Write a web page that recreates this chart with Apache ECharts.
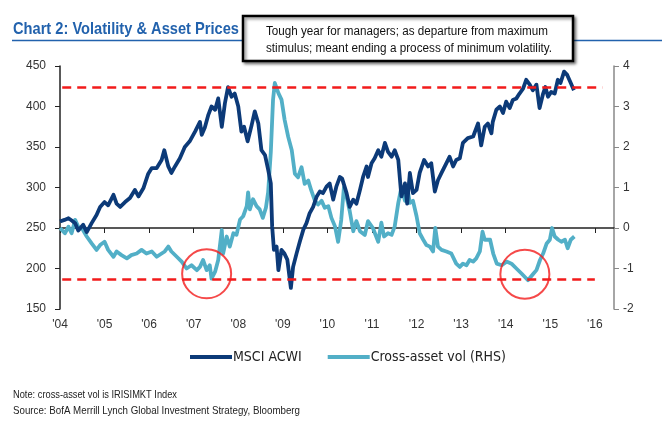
<!DOCTYPE html>
<html>
<head>
<meta charset="utf-8">
<script src="https://cdn.jsdelivr.net/npm/echarts@6/dist/echarts.min.js"></script>
<style>
html,body{margin:0;padding:0;background:#fff;}
#chart{width:672px;height:425px;}
</style>
</head>
<body>
<div id="chart"></div>
<script>
// ---- Data ----
const titleText = 'Chart 2: Volatility & Asset Prices';
const noteLines = ['Tough year for managers; as departure from maximum',
                   'stimulus; meant ending a process of minimum volatility.'];
const footNote = 'Note: cross-asset vol is IRISIMKT Index';
const footSource = 'Source: BofA Merrill Lynch Global Investment Strategy, Bloomberg';
const seriesNames = ['MSCI ACWI', 'Cross-asset vol (RHS)'];

const msciYears = [2004.00,2004.10,2004.19,2004.27,2004.34,2004.41,2004.52,2004.60,2004.71,2004.82,2004.90,
  2005.00,2005.08,2005.20,2005.27,2005.35,2005.46,2005.57,2005.68,2005.76,2005.87,2005.98,
  2006.06,2006.17,2006.28,2006.34,2006.43,2006.50,2006.58,2006.69,2006.80,2006.91,
  2007.03,2007.14,2007.18,2007.25,2007.33,2007.40,2007.48,2007.55,2007.63,2007.70,2007.77,2007.85,2007.92,
  2008.00,2008.07,2008.13,2008.21,2008.30,2008.37,2008.45,2008.52,2008.60,2008.67,2008.73,2008.76,2008.80,2008.86,2008.90,2008.97,
  2009.03,2009.10,2009.18,2009.23,2009.31,2009.38,2009.46,2009.53,2009.60,2009.68,2009.76,2009.83,2009.90,2009.98,
  2010.05,2010.13,2010.20,2010.28,2010.33,2010.43,2010.50,2010.58,2010.65,2010.73,2010.80,2010.88,2010.91,2010.99,
  2011.06,2011.14,2011.21,2011.29,2011.36,2011.44,2011.51,2011.59,2011.66,2011.74,2011.79,2011.85,2011.92,
  2012.00,2012.07,2012.17,2012.26,2012.33,2012.41,2012.48,2012.56,2012.67,2012.74,2012.82,2012.89,2012.97,
  2013.04,2013.15,2013.27,2013.38,2013.45,2013.53,2013.60,2013.68,2013.71,2013.79,2013.87,2013.94,
  2014.01,2014.09,2014.16,2014.24,2014.31,2014.39,2014.46,2014.54,2014.61,2014.69,2014.76,2014.84,2014.89,2014.95,
  2015.02,2015.10,2015.17,2015.23,2015.31,2015.38,2015.46,2015.53];
const msciValues = [258,260,262,259,256,247,254,245,256,266,276,
  282,278,291,280,276,282,287,297,289,299,317,
  324,324,334,346,326,318,326,336,350,357,
  369,381,365,374,390,400,396,410,375,404,424,412,416,
  400,369,375,357,377,394,379,346,340,322,305,252,223,227,198,223,
  219,211,176,202,219,233,248,256,268,276,289,295,293,301,
  305,285,301,313,311,293,276,285,280,297,313,326,313,330,
  336,346,338,355,344,338,346,334,289,305,280,318,293,
  297,318,334,326,330,295,309,318,330,338,326,334,336,
  355,361,363,379,352,375,379,367,381,396,400,392,
  406,398,408,410,416,422,433,427,420,427,398,416,424,412,
  418,416,433,429,443,439,429,420];

const volYears = [2004.00,2004.11,2004.19,2004.26,2004.34,2004.41,2004.49,2004.60,2004.71,2004.82,2004.90,
  2005.00,2005.08,2005.20,2005.27,2005.38,2005.50,2005.60,2005.72,2005.83,2005.94,
  2006.06,2006.17,2006.28,2006.35,2006.43,2006.50,2006.62,2006.73,2006.84,2006.95,
  2007.07,2007.14,2007.21,2007.29,2007.36,2007.40,2007.48,2007.55,2007.63,2007.66,2007.74,2007.81,2007.89,2007.96,
  2008.04,2008.11,2008.19,2008.22,2008.26,2008.33,2008.41,2008.48,2008.55,2008.62,2008.67,2008.73,2008.78,2008.82,2008.90,2008.97,
  2009.04,2009.12,2009.20,2009.27,2009.34,2009.42,2009.49,2009.57,2009.64,2009.72,2009.79,2009.87,2009.94,
  2010.02,2010.09,2010.17,2010.24,2010.31,2010.37,2010.45,2010.50,2010.58,2010.65,2010.73,2010.84,2010.91,
  2011.02,2011.14,2011.21,2011.27,2011.36,2011.44,2011.51,2011.59,2011.66,2011.74,2011.79,2011.85,2011.92,
  2012.00,2012.07,2012.15,2012.22,2012.30,2012.37,2012.42,2012.48,2012.56,2012.67,2012.78,2012.89,2012.97,
  2013.04,2013.12,2013.19,2013.27,2013.34,2013.42,2013.48,2013.53,2013.65,2013.72,2013.80,2013.91,
  2014.02,2014.13,2014.24,2014.36,2014.50,2014.62,2014.69,2014.77,2014.84,2014.92,2014.99,
  2015.04,2015.10,2015.18,2015.25,2015.33,2015.39,2015.46,2015.54];
const volValues = [0.00,-0.13,0.03,-0.13,0.20,0.03,0.00,-0.21,-0.38,-0.54,-0.42,
  -0.34,-0.54,-0.71,-0.58,-0.67,-0.75,-0.67,-0.63,-0.54,-0.63,
  -0.58,-0.71,-0.63,-0.58,-0.46,-0.58,-0.71,-0.83,-1.00,-0.92,
  -1.04,-0.96,-0.79,-1.04,-0.92,-1.25,-1.08,-0.79,-0.05,-0.63,-0.21,-0.46,-0.13,-0.17,
  0.21,0.29,0.54,0.88,0.46,0.71,0.54,0.46,0.25,0.50,0.88,1.88,3.17,3.58,3.33,3.17,
  2.67,2.25,1.92,1.34,1.25,1.50,1.09,1.17,0.92,0.67,0.58,0.67,0.50,
  0.54,0.25,0.04,-0.34,0.20,1.00,0.67,0.42,-0.08,0.17,-0.08,-0.17,0.17,
  0.00,-0.34,0.13,-0.21,-0.13,-0.17,0.04,0.62,1.00,0.67,1.00,0.62,0.67,
  0.29,-0.13,-0.29,-0.42,-0.46,-0.58,0.00,-0.46,-0.54,-0.58,-0.63,-0.88,-0.96,
  -0.88,-0.92,-0.79,-0.83,-0.75,-0.58,-0.09,-0.29,-0.29,-0.63,-0.88,-0.92,
  -0.83,-0.88,-1.00,-1.13,-1.29,-1.13,-1.04,-0.79,-0.63,-0.38,-0.29,
  0.00,-0.21,-0.29,-0.34,-0.29,-0.50,-0.29,-0.21];

const refLevels = [424, 187];                 // red dashed lines (left axis)
const circleCenters = [[2007.29, 193.5], [2014.43, 193]]; // red circles (left axis)

const leftTicks = {min: 150, max: 450, step: 50};
const rightTicks = {min: -2, max: 4, step: 1};
const yearTicks = {min: 2004, max: 2016.43, step: 1};

// ---- Chart ----
const zip = (xs, ys) => xs.map((x, i) => [x, ys[i]]);
const NAVY = '#0C3A78', TEAL = '#52AFC7', RED = '#F21B1B', TITLE_BLUE = '#2262AD';
const arial = "'Liberation Sans',Arial,sans-serif";
const legendFont = "'DejaVu Sans Condensed','Liberation Sans',sans-serif";

// horizontal squeeze to imitate the narrow typeface of the original
const measureCtx = document.createElement('canvas').getContext('2d');
function squeeze(text, font, targetWidth) {
  measureCtx.font = font;
  return targetWidth / measureCtx.measureText(text).width;
}
const titleFont = "bold 17px 'Liberation Sans', Arial, sans-serif";
const boxFont = "12px 'Liberation Sans', Arial, sans-serif";
const footFont = "11px 'Liberation Sans', Arial, sans-serif";

const chart = echarts.init(document.getElementById('chart'), null, {renderer: 'canvas'});
const axisLbl = {color: '#333', fontSize: 12, fontFamily: arial};

function sqText(text, font, x, y, w, fill) {
  return {type: 'text', x: x, y: y, scaleX: squeeze(text, font, w), z: 21,
          style: {text: text, font: font, fill: fill, textVerticalAlign: 'middle'}};
}

chart.setOption({
  animation: false,
  backgroundColor: '#fff',
  grid: {left: 60, right: 58, top: 66, bottom: 116},
  legend: {
    data: seriesNames, left: 185, top: 345, itemGap: 26,
    icon: 'rect', itemWidth: 42, itemHeight: 4,
    textStyle: {color: '#222', fontSize: 14, fontFamily: legendFont, padding: [0, 0, 0, -4]}
  },
  xAxis: {
    type: 'value', min: yearTicks.min, max: yearTicks.max, interval: yearTicks.step,
    splitLine: {show: false},
    axisLine: {lineStyle: {color: '#222', width: 1.5}},
    axisTick: {show: true, length: 5, lineStyle: {color: '#222'}},
    axisLabel: Object.assign({}, axisLbl, {margin: 10, showMaxLabel: false,
      formatter: v => Number.isInteger(v) ? "'" + String(v).slice(2) : ''})
  },
  yAxis: [{
    type: 'value', min: leftTicks.min, max: leftTicks.max, interval: leftTicks.step,
    splitLine: {show: false},
    axisLine: {show: true, lineStyle: {color: '#222', width: 1.5}},
    axisTick: {show: true, length: 5, lineStyle: {color: '#222'}},
    axisLabel: Object.assign({}, axisLbl, {margin: 14})
  }, {
    type: 'value', min: rightTicks.min, max: rightTicks.max, interval: rightTicks.step,
    position: 'right', splitLine: {show: false},
    axisLine: {show: true, lineStyle: {color: '#888', width: 1.5}},
    axisTick: {show: true, length: 5, lineStyle: {color: '#888'}},
    axisLabel: Object.assign({}, axisLbl, {margin: 9})
  }],
  series: [{
    name: seriesNames[1], type: 'line', yAxisIndex: 1, data: zip(volYears, volValues),
    showSymbol: false, symbol: 'none', z: 3,
    lineStyle: {color: TEAL, width: 3.8, join: 'round'}, itemStyle: {color: TEAL}
  }, {
    name: seriesNames[0], type: 'line', yAxisIndex: 0, data: zip(msciYears, msciValues),
    showSymbol: false, symbol: 'none', z: 4,
    lineStyle: {color: NAVY, width: 3.8, join: 'round'}, itemStyle: {color: NAVY},
    markLine: {
      silent: true, symbol: ['none', 'none'], label: {show: false},
      lineStyle: {color: RED, width: 2.5, type: [9, 6]},
      data: [
        [{coord: [2004.05, refLevels[0]]}, {coord: [2016.17, refLevels[0]]}],
        [{coord: [2004.05, refLevels[1]]}, {coord: [2016.0, refLevels[1]]}]
      ]
    }
  }, {
    name: 'circles', type: 'scatter', yAxisIndex: 0, data: circleCenters,
    symbol: 'circle', symbolSize: 49, z: 5, silent: true,
    itemStyle: {color: 'rgba(0,0,0,0)', borderColor: RED, borderWidth: 2}
  }],
  graphic: [
    {type: 'line', shape: {x1: 12, y1: 40.5, x2: 662, y2: 40.5}, style: {stroke: TITLE_BLUE, lineWidth: 1.5}, z: 10},
    sqText(titleText, titleFont, 13, 29, 226, TITLE_BLUE),
    {type: 'rect', shape: {x: 243, y: 16, width: 330, height: 45}, z: 20,
      style: {fill: '#fff', stroke: '#000', lineWidth: 2.5, shadowBlur: 3, shadowOffsetX: 2, shadowOffsetY: 2, shadowColor: 'rgba(0,0,0,0.45)'}},
    sqText(noteLines[0], boxFont, 266, 32, 282, '#111'),
    sqText(noteLines[1], boxFont, 266, 49, 286, '#111'),
    sqText(footNote, footFont, 13, 395, 164, '#222'),
    sqText(footSource, footFont, 13, 411, 287, '#222')
  ]
});
</script>
</body>
</html>
